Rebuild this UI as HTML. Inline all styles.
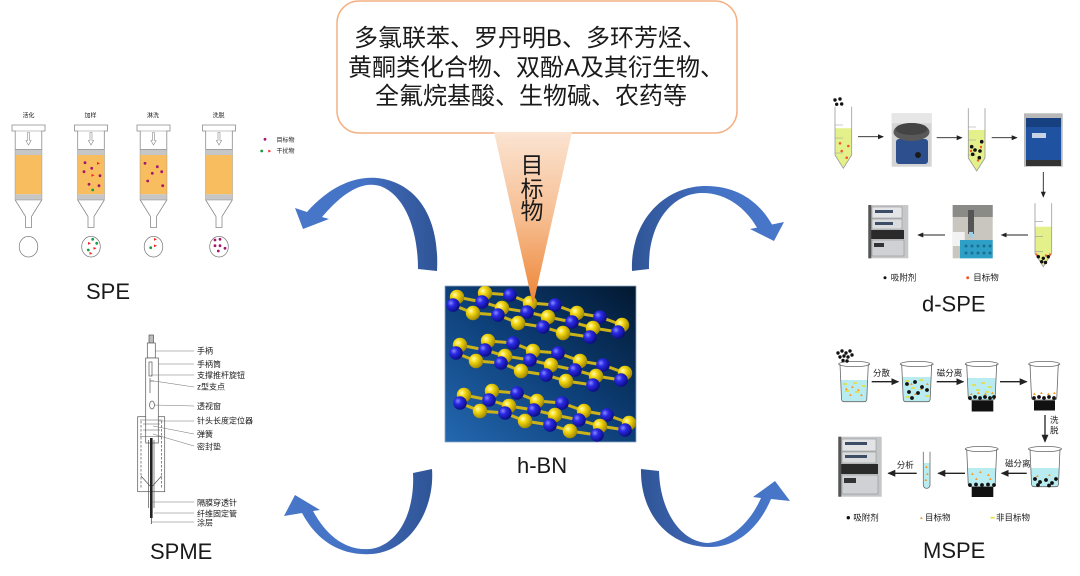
<!DOCTYPE html>
<html><head><meta charset="utf-8">
<style>
html,body{margin:0;padding:0;background:#fff;}
body{width:1080px;height:576px;overflow:hidden;}
svg{display:block}
text{font-family:"Liberation Sans","Noto Sans CJK SC",sans-serif;fill:#1a1a1a;}
</style></head>
<body>
<svg width="1080" height="576" viewBox="0 0 1080 576" xmlns="http://www.w3.org/2000/svg">
<defs>
  <linearGradient id="tri" x1="0" y1="0" x2="0" y2="1">
    <stop offset="0" stop-color="#fbe4d2"/><stop offset="0.5" stop-color="#f6bd90"/><stop offset="1" stop-color="#ee8333"/>
  </linearGradient>
  <linearGradient id="bg" x1="1" y1="0" x2="0" y2="1">
    <stop offset="0" stop-color="#021830"/><stop offset="0.5" stop-color="#0d3f78"/><stop offset="1" stop-color="#2468b0"/>
  </linearGradient>
  <linearGradient id="gl" x1="0" y1="0" x2="1" y2="0">
    <stop offset="0" stop-color="#4876c8"/><stop offset="0.5" stop-color="#4472c4"/><stop offset="0.72" stop-color="#3a61aa"/><stop offset="1" stop-color="#2f5597"/>
  </linearGradient>
  <linearGradient id="gr" x1="1" y1="0" x2="0" y2="0">
    <stop offset="0" stop-color="#4876c8"/><stop offset="0.5" stop-color="#4472c4"/><stop offset="0.72" stop-color="#3a61aa"/><stop offset="1" stop-color="#2f5597"/>
  </linearGradient>
  <radialGradient id="gy" cx="0.35" cy="0.35" r="0.7">
    <stop offset="0" stop-color="#fffbb8"/><stop offset="0.35" stop-color="#f4d812"/><stop offset="1" stop-color="#9c8400"/>
  </radialGradient>
  <radialGradient id="gb" cx="0.35" cy="0.35" r="0.7">
    <stop offset="0" stop-color="#8a8aff"/><stop offset="0.35" stop-color="#2a2ae6"/><stop offset="1" stop-color="#0a0a7c"/>
  </radialGradient>
  <clipPath id="imgclip"><rect x="445" y="286" width="191" height="156"/></clipPath>
  <marker id="ah" markerWidth="6" markerHeight="6" refX="5" refY="3" orient="auto" markerUnits="userSpaceOnUse">
    <path d="M0,0.5 L6,3 L0,5.5 Z" fill="#222"/>
  </marker>
  <marker id="ah2" markerWidth="8" markerHeight="8" refX="7" refY="4" orient="auto" markerUnits="userSpaceOnUse">
    <path d="M0,0.5 L8,4 L0,7.5 Z" fill="#222"/>
  </marker>
  <g id="cart">
    <path d="M-16.5,125 H16.5 V131 H13.3 V200 L3,216.5 V227.5 H-3 V216.5 L-13.3,200 V131 H-16.5 Z" fill="#fff" stroke="#8a8a8a" stroke-width="0.8"/>
    <rect x="-13.3" y="149.3" width="26.6" height="5.7" fill="#c6c6c6"/>
    <rect x="-13.3" y="155" width="26.6" height="39.3" fill="#f8bd5e"/>
    <rect x="-13.3" y="194.3" width="26.6" height="5.7" fill="#c6c6c6"/>
    <path d="M-13.3,149.3 H13.3 M-13.3,200 H13.3 M-13.3,131 H13.3" stroke="#8a8a8a" stroke-width="0.6"/>
    <path d="M-1,132.5 V140.5 H-2.6 L0,145 L2.6,140.5 H1 V132.5 Z" fill="#fff" stroke="#888" stroke-width="0.6"/>
  </g>
  <g id="layer">
    <g stroke="#c9b21a" stroke-width="3" fill="none">
      <polyline points="485,293 510,295 530,303 555,305 577,313 600,317 622,325"/>
      <polyline points="457,297 482,302 502,308 527,312 548,317 572,322 593,328 618,332"/>
      <polyline points="453,305 473,313 498,315 518,323 543,327 563,333 590,337"/>
      <path d="M457,297 L453,305 M502,308 L498,315 M548,317 L543,327 M593,328 L590,337 M485,293 L482,302 M530,303 L527,312 M577,313 L572,322 M622,325 L618,332"/>
    </g>
    <g fill="url(#gy)">
      <circle cx="485" cy="293" r="7.2"/><circle cx="530" cy="303" r="7.2"/><circle cx="577" cy="313" r="7.2"/><circle cx="622" cy="325" r="7.2"/>
    </g>
    <g fill="url(#gb)">
      <circle cx="510" cy="295" r="6.8"/><circle cx="555" cy="305" r="6.8"/><circle cx="600" cy="317" r="6.8"/>
    </g>
    <g fill="url(#gy)">
      <circle cx="457" cy="297" r="7.2"/><circle cx="502" cy="308" r="7.2"/><circle cx="548" cy="317" r="7.2"/><circle cx="593" cy="328" r="7.2"/>
    </g>
    <g fill="url(#gb)">
      <circle cx="482" cy="302" r="6.8"/><circle cx="527" cy="312" r="6.8"/><circle cx="572" cy="322" r="6.8"/><circle cx="618" cy="332" r="6.8"/>
    </g>
    <g fill="url(#gb)">
      <circle cx="453" cy="305" r="6.8"/><circle cx="498" cy="315" r="6.8"/><circle cx="543" cy="327" r="6.8"/><circle cx="590" cy="337" r="6.8"/>
    </g>
    <g fill="url(#gy)">
      <circle cx="473" cy="313" r="7.2"/><circle cx="518" cy="323" r="7.2"/><circle cx="563" cy="333" r="7.2"/>
    </g>
  </g>
</defs>

<!-- ===== Callout ===== -->
<rect x="337" y="1" width="400" height="132" rx="22" ry="22" fill="#fff" stroke="#f4b183" stroke-width="1.5"/>
<text x="354" y="46" font-size="24">多氯联苯、罗丹明B、多环芳烃、</text>
<text x="348" y="75.5" font-size="24">黄酮类化合物、双酚A及其衍生物、</text>
<text x="375" y="104" font-size="24">全氟烷基酸、生物碱、农药等</text>

<!-- ===== h-BN image ===== -->
<rect x="445" y="286" width="191" height="156" fill="url(#bg)" stroke="#8fa8c0" stroke-width="0.8"/>
<g clip-path="url(#imgclip)">
  <use href="#layer"/>
  <use href="#layer" transform="translate(3,48)"/>
  <use href="#layer" transform="translate(7,98)"/>
</g>

<!-- pointer triangle -->
<polygon points="494,132 572,132 533,305" fill="url(#tri)"/>
<text x="532" y="173" font-size="23" text-anchor="middle">目</text>
<text x="532" y="197" font-size="23" text-anchor="middle">标</text>
<text x="532" y="219" font-size="23" text-anchor="middle">物</text>

<text x="517" y="473" font-size="22">h-BN</text>

<!-- ===== Curved arrows ===== -->
<path d="M418,269 C418,230 405,195 380,186 C360,180 340,196 322,217 L329,219 L303,229 L295,208 L307,212 C330,186 355,176 377,178 C415,182 440,215 437,271 Z" fill="url(#gl)"/>
<path d="M649,269 C648,225 670,195 700,193 C725,192 745,207 757,227.6 L750,229 L774,241 L784,222 L772,224.5 C758,200 735,185 703,186 C660,188 630,225 632,271 Z" fill="url(#gr)"/>
<path d="M413,473 C415,510 400,545 370,549 C345,551 326,535 313,511 L320,510 L295,495 L284,516 L302,513 C318,543 343,556 372,554 C410,551 435,510 432,469 Z" fill="url(#gl)"/>
<path d="M641,469 C640,510 665,546 708,547 C735,548 758,530 771,499 L790,501 L775,481 L753,497 L761,498 C750,523 730,541 708,543 C680,542 660,510 659,471 Z" fill="url(#gr)"/>

<!-- ===== SPE ===== -->
<g font-size="6">
  <text x="28.5" y="117.5" text-anchor="middle">活化</text>
  <text x="90.5" y="117.5" text-anchor="middle">加样</text>
  <text x="153" y="117.5" text-anchor="middle">淋洗</text>
  <text x="218.5" y="117.5" text-anchor="middle">洗脱</text>
</g>
<use href="#cart" transform="translate(28.5,0)"/>
<use href="#cart" transform="translate(91,0)"/>
<use href="#cart" transform="translate(153.5,0)"/>
<use href="#cart" transform="translate(219,0)"/>
<g fill="#fff" stroke="#777" stroke-width="0.7">
  <ellipse cx="28.5" cy="246.7" rx="9.3" ry="10.3"/>
  <ellipse cx="91" cy="246.7" rx="9.3" ry="10.3"/>
  <ellipse cx="153.5" cy="246.7" rx="9.3" ry="10.3"/>
  <ellipse cx="219" cy="246.7" rx="9.3" ry="10.3"/>
</g>
<g fill="#a3166e">
  <circle cx="85" cy="162.7" r="1.4"/><circle cx="91.7" cy="168.3" r="1.4"/><circle cx="84" cy="171.7" r="1.4"/><circle cx="100" cy="175.7" r="1.4"/><circle cx="89" cy="184.3" r="1.4"/><circle cx="99" cy="185.7" r="1.4"/>
  <circle cx="145" cy="163.3" r="1.4"/><circle cx="157.3" cy="166.7" r="1.4"/><circle cx="152.3" cy="173.3" r="1.4"/><circle cx="161.7" cy="171.7" r="1.4"/><circle cx="147.7" cy="181" r="1.4"/><circle cx="162.7" cy="185.7" r="1.4"/>
  <circle cx="215" cy="240" r="1.4"/><circle cx="220" cy="239.3" r="1.4"/><circle cx="215" cy="245.7" r="1.4"/><circle cx="220" cy="245.7" r="1.4"/><circle cx="225" cy="248.3" r="1.4"/><circle cx="218.3" cy="251" r="1.4"/>
  <circle cx="265" cy="139.3" r="1.4"/>
</g>
<g fill="#f02020">
  <path d="M97,162 l3,1.3 -3,1.5z"/><path d="M91.5,174 l3,1.3 -3,1.5z"/>
  <path d="M88,242 l3,1.3 -3,1.5z"/><path d="M93.5,247 l3,1.3 -3,1.5z"/><path d="M89.5,252 l3,1.3 -3,1.5z"/>
  <path d="M154,238 l3,1.3 -3,1.5z"/><path d="M154,244.5 l3,1.3 -3,1.5z"/>
  <path d="M268.3,149.7 l3,1.3 -3,1.5z"/>
</g>
<g fill="#13a040">
  <circle cx="92.7" cy="190" r="1.4"/>
  <circle cx="92.7" cy="239.3" r="1.4"/><circle cx="96.7" cy="243.3" r="1.4"/><circle cx="88.3" cy="250" r="1.4"/>
  <circle cx="150.7" cy="247.7" r="1.4"/>
  <circle cx="261.7" cy="151" r="1.4"/>
</g>
<text x="276.5" y="142" font-size="6">目标物</text>
<text x="276.5" y="153" font-size="6">干扰物</text>
<text x="86" y="299" font-size="22">SPE</text>

<!-- ===== SPME ===== -->
<g stroke="#555" stroke-width="0.7" fill="#fff">
  <rect x="137.7" y="416.7" width="27" height="75"/>
  <rect x="149" y="335" width="4.5" height="8" fill="#bbb"/>
  <rect x="147.3" y="343" width="8" height="15"/>
  <rect x="145.7" y="358" width="12.6" height="85"/>
  <rect x="149" y="362" width="3" height="14" fill="none"/>
  <path d="M150,378 V393 M150,381 H154" fill="none"/>
  <ellipse cx="152" cy="405" rx="2.4" ry="4" fill="none"/>
  <path d="M141,421 V488 M161.5,421 V488" fill="none" stroke-dasharray="2.5,1.5"/>
  <path d="M140,420 H162.3 M140,436.7 H162.3 M143,424 H160 M143,430 H160" fill="none" stroke-width="0.5"/>
  <path d="M141,476 L150,486 M161.5,476 L152.6,486" fill="none"/>
  <path d="M148.5,440 V508 M154,440 V508" fill="none"/>
</g>
<rect x="150" y="438" width="2.6" height="80" fill="#222"/>
<line x1="151.3" y1="516" x2="151.3" y2="524" stroke="#333" stroke-width="0.7"/>
<g stroke="#777" stroke-width="0.6">
  <line x1="155.3" y1="351" x2="194" y2="351"/>
  <line x1="158.3" y1="364" x2="194" y2="364"/>
  <line x1="151" y1="375" x2="194" y2="375"/>
  <line x1="154" y1="381" x2="194" y2="387"/>
  <line x1="154.4" y1="405" x2="194" y2="406"/>
  <line x1="158.3" y1="421" x2="194" y2="421"/>
  <line x1="153" y1="426" x2="194" y2="434"/>
  <line x1="153" y1="434" x2="194" y2="446"/>
  <line x1="152.6" y1="502" x2="194" y2="502"/>
  <line x1="154" y1="513" x2="194" y2="513"/>
  <line x1="151.3" y1="522" x2="194" y2="522"/>
</g>
<g font-size="8">
  <text x="197" y="353.7">手柄</text>
  <text x="197" y="367">手柄筒</text>
  <text x="197" y="378">支撑推杆旋钮</text>
  <text x="197" y="389.7">z型支点</text>
  <text x="197" y="409">透视窗</text>
  <text x="197" y="423.7">针头长度定位器</text>
  <text x="197" y="437">弹簧</text>
  <text x="197" y="449.7">密封垫</text>
  <text x="197" y="505.3">隔膜穿透针</text>
  <text x="197" y="516.3">纤维固定管</text>
  <text x="197" y="525.7">涂层</text>
</g>
<text x="150" y="559" font-size="22">SPME</text>

<!-- ===== d-SPE ===== -->
<!-- tube 1 -->
<polygon points="835,128.3 851.7,128.3 851.7,155 843.3,168.3 835,155" fill="#e4f08a"/>
<path d="M835,106.7 V155 L843.3,168.3 L851.7,155 V106.7" fill="none" stroke="#999" stroke-width="0.8"/>
<path d="M835,125 H843 M835,138 H843 M835,153 H843" stroke="#999" stroke-width="0.6"/>
<g fill="#f05a28"><circle cx="840" cy="143.3" r="1.3"/><circle cx="848.3" cy="146" r="1.3"/><circle cx="841.7" cy="151" r="1.3"/><circle cx="846.7" cy="157.7" r="1.3"/></g>
<g fill="#111"><circle cx="835" cy="100" r="1.7"/><circle cx="840" cy="99" r="1.7"/><circle cx="836.7" cy="104.3" r="1.7"/><circle cx="841.7" cy="104" r="1.7"/></g>
<!-- tube 2 -->
<polygon points="968.3,130 985,130 985,158 976.7,171 968.3,158" fill="#e4f08a"/>
<path d="M968.3,108.3 V158 L976.7,171 L985,158 V108.3" fill="none" stroke="#999" stroke-width="0.8"/>
<path d="M968.3,127 H976 M968.3,140 H976 M968.3,155 H976" stroke="#999" stroke-width="0.6"/>
<g fill="#111"><circle cx="981.7" cy="141.7" r="1.8"/><circle cx="971.7" cy="146.7" r="1.8"/><circle cx="975" cy="150" r="1.8"/><circle cx="980" cy="151" r="1.8"/><circle cx="972.7" cy="154.3" r="1.8"/><circle cx="979.3" cy="157.7" r="1.8"/></g>
<g fill="#f05a28"><circle cx="981" cy="147" r="1.2"/><circle cx="971" cy="151" r="1.2"/><circle cx="978" cy="160.5" r="1.2"/></g>
<!-- tube 3 -->
<polygon points="1035,226.7 1051.7,226.7 1051.7,253.3 1043.3,266.7 1035,253.3" fill="#e4f08a"/>
<path d="M1035,203.3 V253.3 L1043.3,266.7 L1051.7,253.3 V203.3" fill="none" stroke="#999" stroke-width="0.8"/>
<path d="M1035,221.7 H1043 M1035,236.7 H1043 M1035,251.7 H1043" stroke="#999" stroke-width="0.6"/>
<g fill="#111"><circle cx="1038.3" cy="256.7" r="1.7"/><circle cx="1043.3" cy="258.3" r="1.7"/><circle cx="1048.3" cy="256.7" r="1.7"/><circle cx="1041.7" cy="261.7" r="1.7"/><circle cx="1045.5" cy="262.5" r="1.7"/></g>
<g fill="#f05a28"><circle cx="1036.5" cy="254.5" r="1.1"/><circle cx="1046" cy="255.5" r="1.1"/><circle cx="1050" cy="254.5" r="1.1"/></g>
<!-- photo 1 vortex -->
<rect x="891.7" y="113.3" width="40" height="53.4" fill="#d4d4d4"/>
<rect x="891.7" y="113.3" width="40" height="10" fill="#e6e6e6"/>
<rect x="896" y="139" width="32" height="25" rx="3" fill="#2d4f8e"/>
<ellipse cx="911.5" cy="132" rx="18" ry="9" fill="#595959"/>
<ellipse cx="911.5" cy="129" rx="16" ry="6" fill="#444"/>
<circle cx="918" cy="155" r="3" fill="#1a1a1a"/>
<!-- photo 2 centrifuge -->
<rect x="1024" y="113.3" width="38.7" height="53.4" fill="#b8b8b8"/>
<rect x="1026" y="118" width="35" height="44" rx="2" fill="#1f52a0"/>
<rect x="1026" y="118" width="35" height="9" fill="#16407f"/>
<rect x="1032" y="133" width="14" height="5" fill="#c8d4e6"/>
<rect x="1026" y="160" width="35" height="6" fill="#333"/>
<!-- photo 3 pipetting -->
<rect x="952.7" y="205" width="40" height="53.3" fill="#c9c6bf"/>
<rect x="952.7" y="205" width="40" height="12" fill="#8a8a86"/>
<rect x="952.7" y="232" width="12" height="14" fill="#f2f2f2"/>
<rect x="968" y="210" width="6" height="24" fill="#555"/>
<rect x="969" y="232" width="4" height="6" fill="#9ecde8"/>
<rect x="960" y="240" width="32.7" height="18.3" fill="#2e9fc6"/>
<g fill="#1b6f92"><circle cx="966" cy="246" r="1.5"/><circle cx="972" cy="246" r="1.5"/><circle cx="978" cy="246" r="1.5"/><circle cx="984" cy="246" r="1.5"/><circle cx="990" cy="246" r="1.5"/><circle cx="966" cy="253" r="1.5"/><circle cx="972" cy="253" r="1.5"/><circle cx="978" cy="253" r="1.5"/><circle cx="984" cy="253" r="1.5"/><circle cx="990" cy="253" r="1.5"/></g>
<!-- photo 4 HPLC -->
<rect x="868.3" y="205" width="40" height="53.3" fill="#c6c8ca"/>
<rect x="872" y="207" width="30" height="11" fill="#e4e5e7" stroke="#777" stroke-width="0.4"/>
<rect x="875" y="210" width="18" height="3" fill="#3d4d66"/>
<rect x="872" y="219" width="30" height="10" fill="#dadcde" stroke="#777" stroke-width="0.4"/>
<rect x="875" y="222" width="18" height="3" fill="#3d4d66"/>
<rect x="870" y="230" width="34" height="9" fill="#2a2a2a"/>
<rect x="872" y="240" width="32" height="16" fill="#cfd1d4" stroke="#777" stroke-width="0.4"/>
<rect x="874" y="243" width="10" height="4" fill="#333"/>
<rect x="868.3" y="205" width="3" height="53.3" fill="#555"/>
<!-- d-SPE arrows -->
<g stroke="#222" stroke-width="0.9" marker-end="url(#ah)">
  <line x1="858" y1="136.7" x2="883" y2="136.7"/>
  <line x1="936.7" y1="137.7" x2="961.7" y2="137.7"/>
  <line x1="991.7" y1="137.7" x2="1016.7" y2="137.7"/>
  <line x1="1043.3" y1="172" x2="1043.3" y2="196.7"/>
  <line x1="1028" y1="235" x2="1001.7" y2="235"/>
  <line x1="945" y1="235" x2="918.3" y2="235"/>
</g>
<circle cx="885" cy="277.7" r="1.5" fill="#111"/>
<text x="890.7" y="280.7" font-size="8.5">吸附剂</text>
<circle cx="967.7" cy="277.7" r="1.5" fill="#f05a28"/>
<text x="973.3" y="280.7" font-size="8.5">目标物</text>
<text x="922" y="311.7" font-size="22">d-SPE</text>

<!-- ===== MSPE ===== -->
<g fill="#b8ecf0">
  <path d="M840.6,380 H867.7 L866.8,398.7 Q866.8,401.7 863.8,401.7 H844.5 Q841.5,401.7 841.5,398.7 Z"/>
  <path d="M902.3,377 H931.1 L930.2,398.7 Q930.2,401.7 927.2,401.7 H906.2 Q903.2,401.7 903.2,398.7 Z"/>
  <path d="M967.3,378 H996.1 L995.2,397 Q995.2,400 992.2,400 H971.2 Q968.2,400 968.2,397 Z"/>
  <path d="M1030.6,468 H1059.4 L1058.5,483.7 Q1058.5,486.7 1055.5,486.7 H1034.5 Q1031.5,486.7 1031.5,483.7 Z"/>
  <path d="M967.3,468 H996.1 L995.2,483.7 Q995.2,486.7 992.2,486.7 H971.2 Q968.2,486.7 968.2,483.7 Z"/>
  <rect x="923.8" y="463" width="5.7" height="25"/>
</g>
<g fill="none" stroke="#666" stroke-width="0.8">
  <ellipse cx="854.2" cy="364" rx="15.6" ry="2.6"/>
  <path d="M840,364 L841.5,398.7 Q841.5,401.7 844.5,401.7 H863.8 Q866.8,401.7 866.8,398.7 L868.3,364"/>
  <ellipse cx="916.7" cy="364" rx="16.5" ry="2.6"/>
  <path d="M901.7,364 L903.2,398.7 Q903.2,401.7 906.2,401.7 H927.2 Q930.2,401.7 930.2,398.7 L931.7,364"/>
  <ellipse cx="981.7" cy="364" rx="16.5" ry="2.6"/>
  <path d="M966.7,364 L968.2,397 Q968.2,400 971.2,400 H992.2 Q995.2,400 995.2,397 L996.7,364"/>
  <ellipse cx="1044.2" cy="364" rx="15.6" ry="2.6"/>
  <path d="M1030,364 L1031.5,397 Q1031.5,400 1034.5,400 H1053.8 Q1056.8,400 1056.8,397 L1058.3,364"/>
  <ellipse cx="1045" cy="449" rx="16.5" ry="2.6"/>
  <path d="M1030,449 L1031.5,483.7 Q1031.5,486.7 1034.5,486.7 H1055.5 Q1058.5,486.7 1058.5,483.7 L1060,449"/>
  <ellipse cx="981.7" cy="449" rx="16.5" ry="2.6"/>
  <path d="M966.7,449 L968.2,483.7 Q968.2,486.7 971.2,486.7 H992.2 Q995.2,486.7 995.2,483.7 L996.7,449"/>
  <path d="M923.3,451.7 V485 A3.35,3.35 0 0 0 930,485 V451.7"/>
</g>
<!-- magnets -->
<g fill="#111">
  <rect x="971.7" y="400.5" width="21.6" height="11"/>
  <rect x="1034" y="400.5" width="21" height="10"/>
  <rect x="971.7" y="487" width="21.6" height="10"/>
</g>
<!-- yellow dashes (non-target) -->
<g stroke="#e8dc30" stroke-width="1.6">
  <path d="M843,384 h4 M853,383 h4 M862,386 h4 M845,391 h4 M855,392 h4"/>
  <path d="M905,381 h4 M919,380 h4 M911,388 h4 M925,396 h4 M906,397 h4"/>
  <path d="M972,385 h4 M981,383 h4 M988,387 h4 M976,390 h4 M985,392 h4"/>
  <path d="M990.5,517.7 h4"/>
</g>
<!-- orange targets -->
<g fill="#f39a2a">
  <path d="M845,390 l1.4,-2.4 1.4,2.4z M851,388 l1.4,-2.4 1.4,2.4z M857,391 l1.4,-2.4 1.4,2.4z M849,396 l1.4,-2.4 1.4,2.4z M860,396 l1.4,-2.4 1.4,2.4z"/>
  <path d="M910,385 l1.4,-2.4 1.4,2.4z M920,390 l1.4,-2.4 1.4,2.4z M914,395 l1.4,-2.4 1.4,2.4z M926,385 l1.4,-2.4 1.4,2.4z"/>
  <path d="M970,395 l1.4,-2.4 1.4,2.4z M977,394 l1.4,-2.4 1.4,2.4z M984,395 l1.4,-2.4 1.4,2.4z M991,394 l1.4,-2.4 1.4,2.4z"/>
  <path d="M1033,395 l1.4,-2.4 1.4,2.4z M1040,394 l1.4,-2.4 1.4,2.4z M1047,395 l1.4,-2.4 1.4,2.4z M1053,394 l1.4,-2.4 1.4,2.4z"/>
  <path d="M1036,477 l1.4,-2.4 1.4,2.4z M1048,476 l1.4,-2.4 1.4,2.4z M1054,479 l1.4,-2.4 1.4,2.4z"/>
  <path d="M971,475 l1.4,-2.4 1.4,2.4z M979,473 l1.4,-2.4 1.4,2.4z M987,476 l1.4,-2.4 1.4,2.4z M975,480 l1.4,-2.4 1.4,2.4z M989,480 l1.4,-2.4 1.4,2.4z"/>
  <path d="M925,468 l1.4,-2.4 1.4,2.4z M926,475 l1.4,-2.4 1.4,2.4z M924.5,481 l1.4,-2.4 1.4,2.4z"/>
  <path d="M920,519 l1.4,-2.4 1.4,2.4z"/>
</g>
<!-- black sorbent -->
<g fill="#111">
  <circle cx="838" cy="353" r="1.7"/><circle cx="842" cy="351" r="1.7"/><circle cx="846" cy="353" r="1.7"/><circle cx="850" cy="351" r="1.7"/><circle cx="840" cy="357" r="1.7"/><circle cx="844" cy="356" r="1.7"/><circle cx="848" cy="357" r="1.7"/><circle cx="852" cy="355" r="1.7"/><circle cx="843" cy="360.5" r="1.7"/><circle cx="847" cy="361" r="1.7"/>
  <circle cx="907" cy="384" r="1.9"/><circle cx="915" cy="382" r="1.9"/><circle cx="922" cy="387" r="1.9"/><circle cx="909" cy="392" r="1.9"/><circle cx="918" cy="393" r="1.9"/><circle cx="927" cy="390" r="1.9"/><circle cx="912" cy="398" r="1.9"/>
  <circle cx="970" cy="398" r="1.9"/><circle cx="975" cy="397" r="1.9"/><circle cx="980" cy="398" r="1.9"/><circle cx="985" cy="397" r="1.9"/><circle cx="990" cy="398" r="1.9"/><circle cx="994" cy="397" r="1.9"/>
  <circle cx="1034" cy="398" r="1.9"/><circle cx="1039" cy="397" r="1.9"/><circle cx="1044" cy="398" r="1.9"/><circle cx="1049" cy="397" r="1.9"/><circle cx="1054" cy="398" r="1.9"/>
  <circle cx="1035" cy="479" r="1.9"/><circle cx="1040" cy="482" r="1.9"/><circle cx="1046" cy="480" r="1.9"/><circle cx="1052" cy="483" r="1.9"/><circle cx="1056" cy="479" r="1.9"/><circle cx="1038" cy="485" r="1.9"/><circle cx="1049" cy="485.5" r="1.9"/>
  <circle cx="970" cy="485" r="1.9"/><circle cx="976" cy="484.5" r="1.9"/><circle cx="982" cy="485" r="1.9"/><circle cx="988" cy="484.5" r="1.9"/><circle cx="994" cy="485" r="1.9"/>
  <circle cx="848.3" cy="517.7" r="1.7"/>
</g>
<!-- HPLC photo -->
<rect x="838.3" y="436.7" width="43.4" height="60" fill="#c4c6c8"/>
<rect x="842" y="439" width="34" height="12" fill="#e2e3e5" stroke="#777" stroke-width="0.4"/>
<rect x="845" y="442" width="22" height="3" fill="#3d4d66"/>
<rect x="842" y="452" width="34" height="11" fill="#d8dadc" stroke="#777" stroke-width="0.4"/>
<rect x="845" y="455" width="22" height="3" fill="#3d4d66"/>
<rect x="840" y="464" width="38" height="10" fill="#2a2a2a"/>
<rect x="842" y="475" width="36" height="19" fill="#cfd1d4" stroke="#777" stroke-width="0.4"/>
<rect x="844" y="478" width="12" height="5" fill="#333"/>
<rect x="838.3" y="436.7" width="3" height="60" fill="#555"/>
<!-- MSPE arrows -->
<g stroke="#222" stroke-width="1.3" marker-end="url(#ah2)">
  <line x1="871.7" y1="381.7" x2="898.3" y2="381.7"/>
  <line x1="936.7" y1="381.7" x2="963.3" y2="381.7"/>
  <line x1="1000" y1="381.7" x2="1026.7" y2="381.7"/>
  <line x1="1045" y1="415" x2="1045" y2="441.7"/>
  <line x1="1026.7" y1="473.3" x2="1001.7" y2="473.3"/>
  <line x1="965" y1="473.3" x2="938.3" y2="473.3"/>
  <line x1="916.7" y1="473.3" x2="888.3" y2="473.3"/>
</g>
<g font-size="8.5">
  <text x="873" y="376">分散</text>
  <text x="936.7" y="376">磁分离</text>
  <text x="1050" y="423">洗</text>
  <text x="1050" y="433.5">脱</text>
  <text x="1005" y="466.5">磁分离</text>
  <text x="896.7" y="468">分析</text>
  <text x="853.3" y="520.7">吸附剂</text>
  <text x="925" y="520.7">目标物</text>
  <text x="996" y="520.7">非目标物</text>
</g>
<text x="923" y="558" font-size="22">MSPE</text>
</svg>
</body></html>
